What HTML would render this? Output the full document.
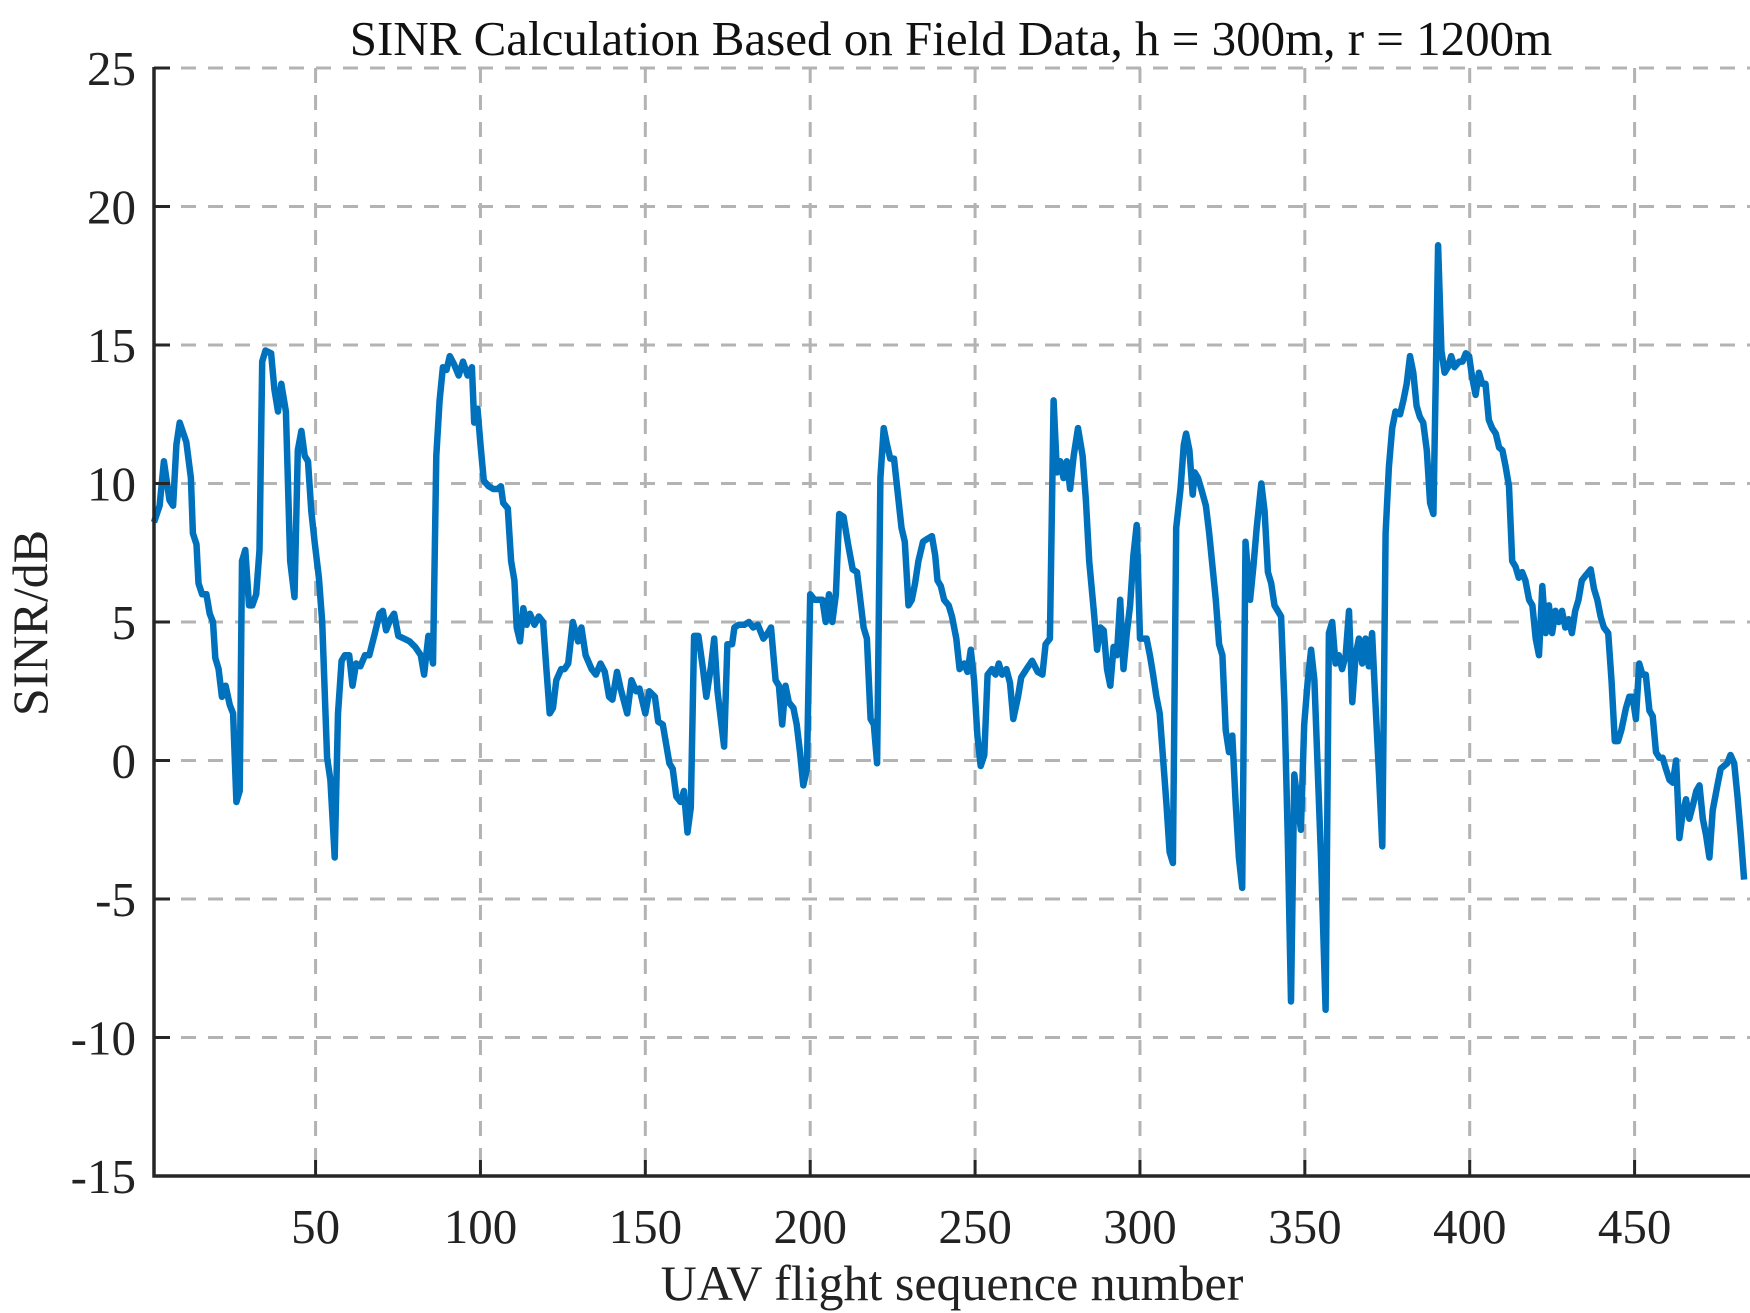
<!DOCTYPE html>
<html><head><meta charset="utf-8"><style>
html,body{margin:0;padding:0;background:#fff;}
svg{display:block;font-family:"Liberation Serif",serif;}
</style></head><body>
<svg id="chart" width="1750" height="1313" viewBox="0 0 1750 1313" xmlns="http://www.w3.org/2000/svg">
<rect x="0" y="0" width="1750" height="1313" fill="#fff"/>
<g id="grid"></g>
<g id="series"></g>
<g id="axes"></g>
<text x="951" y="55" font-size="49" text-anchor="middle" fill="#111">SINR Calculation Based on Field Data, h = 300m, r = 1200m</text>
<text x="952" y="1300" font-size="50" text-anchor="middle" fill="#222">UAV flight sequence number</text>
<text x="0" y="0" font-size="50" text-anchor="middle" fill="#222" transform="translate(47,623) rotate(-90)">SINR/dB</text>
</svg>
<script>
const xTicks = [50,100,150,200,250,300,350,400,450];
const yTicks = [-15,-10,-5,0,5,10,15,20,25];
const seqX = [1,2.7,4,5.7,6.8,7.8,8.8,10.8,12.2,12.8,13.9,14.5,15.6,16.9,17.9,18.9,19.6,20.6,21.6,22.7,24,25,26,27,27.7,28.7,29.8,30.8,32,33,33.8,34.8,36.5,37.5,38.6,39.6,41,42.3,43.6,44.6,45.7,46.7,47.7,48.7,49.7,51,52,53.5,54.5,55.8,56.8,57.9,58.9,60.2,61.2,62.3,63.6,65,66.3,68,69.4,70.4,71.4,72.7,73.8,75.1,76.8,78.5,80.2,81.9,82.9,84.2,85.6,86.6,87.6,88.6,89.7,90.7,92,93.4,94.7,96.1,97.4,98.1,99.1,100,101,102.5,103.9,105.2,106.2,106.9,108.3,109.3,110.3,111,112,113,114,115,116.4,117.7,119,120,121,122,123,124.5,125.5,126.6,128,129.6,130.6,131.9,133.7,135,136.4,137.7,139,140,141.4,142.5,144.5,145.8,147.2,148.2,150,151.2,152.9,153.9,155.3,157.3,158.3,159.4,160.7,161.7,162.8,163.8,164.8,166.1,167.5,168.5,169.9,170.9,171.9,173.9,174.9,176.3,177,178.3,180,181.4,182.7,184.1,185.8,187.1,188.1,189.5,190.5,191.5,192.5,193.5,194.9,195.9,196.9,197.9,199,200,201.3,202.7,203.7,204.7,205.7,206.7,207.8,208.8,210.1,211.5,212.9,214.2,215.2,216.2,217.2,218.3,219.3,220.3,221.3,222.3,223.3,224.3,225.4,226.4,227.7,228.7,229.8,230.8,231.8,232.8,234.2,235.5,236.9,237.9,238.6,239.6,240.6,242,243,244.3,245.3,246.7,247.7,248.7,249.7,250.7,251.7,252.8,253.8,255.1,256.2,257.2,258.2,259.5,260.6,261.6,263,264,265.6,267.3,269,270.4,271.4,272.7,273.8,274.8,275.8,276.8,277.8,278.8,279.9,281.2,282.6,283.6,284.6,286,287,288,289,290,291,292,293,294,295,296,297,298,299,300,302,303,304,305,306,307,308,309,310,311,312.3,313.3,314,315,316,316.6,317.6,318.6,320,321,322,323,324,325,326,327,328,329,330,331,332,333.4,334.4,335.4,336.8,337.8,338.8,339.8,340.8,341.8,342.8,343.8,344.8,345.8,346.8,347.8,348.8,349.8,350.9,351.9,352.9,353.9,354.9,356.3,357.3,358.3,359.3,360.3,361.3,362.4,363.4,364.4,365.4,366.4,367.4,368.4,369.4,370.4,371.4,372.5,373.5,374.5,375.5,376.5,377.5,378.9,379.9,380.9,381.9,382.9,383.9,384.9,385.9,387,388,389,390.4,391.4,392.4,393.4,394.4,395.4,396.8,397.8,398.8,399.8,400.8,401.8,402.8,403.8,404.8,405.8,406.8,407.9,408.9,409.9,410.9,411.9,412.9,413.9,414.9,415.9,416.9,418,419,420,421,422,423,424,425,426,427,428,429,430,431,432,433,434,435.3,436.7,437.7,438.7,439.7,440.7,442,443,444,445,446,447.4,448.4,449.4,450.4,451.4,452.4,453.4,454.5,455.5,456.5,457.5,458.5,459.5,460.6,461.6,462.6,463.6,464.6,465.6,466.6,467.7,468.7,469.7,470.7,471.7,472.7,473.7,475.1,476.1,477.1,478.1,479.1,480.2,481.2,482.2,483.2];
const sinrValues = [8.6,9.2,10.8,9.4,9.2,11.4,12.2,11.5,10.2,8.2,7.8,6.4,6.0,6.0,5.3,5.0,3.7,3.3,2.3,2.7,2.0,1.7,-1.5,-1.1,7.2,7.6,5.6,5.6,6.0,7.6,14.4,14.8,14.7,13.4,12.6,13.6,12.6,7.2,5.9,11.2,11.9,11.0,10.8,9.0,7.9,6.6,5.0,0.1,-0.7,-3.5,1.7,3.6,3.8,3.8,2.7,3.5,3.4,3.8,3.8,4.6,5.3,5.4,4.7,5.1,5.3,4.5,4.4,4.3,4.1,3.8,3.1,4.5,3.5,11.0,13.0,14.2,14.1,14.6,14.3,13.9,14.4,13.9,14.2,12.2,12.7,11.4,10.1,9.9,9.8,9.8,9.9,9.3,9.1,7.2,6.5,4.8,4.3,5.5,4.9,5.3,4.9,5.2,5.0,3.3,1.7,1.9,2.9,3.3,3.3,3.5,5.0,4.3,4.8,3.8,3.3,3.1,3.5,3.2,2.3,2.2,3.2,2.6,1.7,2.9,2.5,2.6,1.7,2.5,2.3,1.4,1.3,-0.1,-0.3,-1.3,-1.5,-1.1,-2.6,-1.7,4.5,4.5,3.3,2.3,3.4,4.4,2.5,0.5,4.2,4.2,4.8,4.9,4.9,5.0,4.8,4.9,4.4,4.6,4.8,2.9,2.7,1.3,2.7,2.1,1.9,1.3,0.3,-0.9,-0.3,6.0,5.8,5.8,5.8,5.0,6.0,5.0,6.0,8.9,8.8,7.8,6.9,6.8,5.8,4.8,4.4,1.5,1.3,-0.1,10.2,12.0,11.4,10.9,10.9,9.8,8.4,7.9,5.6,5.8,6.4,7.2,7.9,8.0,8.1,7.4,6.5,6.3,5.8,5.6,5.2,4.4,3.3,3.5,3.2,4.0,2.9,0.9,-0.2,0.2,3.1,3.3,3.1,3.5,3.1,3.3,2.8,1.5,2.3,3.0,3.3,3.6,3.2,3.1,4.2,4.4,13.0,10.4,10.8,10.2,10.8,9.8,11.0,12.0,11.0,9.4,7.2,5.4,4.0,4.8,4.7,3.3,2.7,4.1,3.8,5.8,3.3,4.6,5.6,7.4,8.5,4.4,4.4,3.8,3.1,2.3,1.7,0.1,-1.5,-3.3,-3.7,8.4,9.8,11.4,11.8,11.2,9.6,10.4,10.2,9.8,9.2,8.2,7.0,5.8,4.2,3.8,1.1,0.3,0.9,-1.5,-3.5,-4.6,7.9,5.8,7.0,8.4,10.0,9.0,6.8,6.4,5.6,5.4,5.2,2.1,-2.7,-8.7,-0.5,-1.5,-2.5,1.3,2.9,4.0,2.9,-0.3,-3.5,-9.0,4.6,5.0,3.5,3.8,3.3,3.8,5.4,2.1,3.8,4.4,3.5,4.4,3.4,4.6,2.1,-0.5,-3.1,8.2,10.6,12.0,12.6,12.5,13.0,13.6,14.6,14.0,12.8,12.4,12.2,11.2,9.3,8.9,18.6,14.8,14.0,14.2,14.6,14.2,14.4,14.4,14.7,14.6,13.8,13.2,14.0,13.6,13.6,12.3,12.0,11.8,11.3,11.2,10.6,9.9,7.2,7.0,6.6,6.8,6.5,5.8,5.6,4.4,3.8,6.3,4.6,5.6,4.6,5.4,5.0,5.4,4.8,5.1,4.6,5.4,5.8,6.5,6.7,6.9,6.2,5.8,5.2,4.8,4.6,2.9,0.7,0.7,1.1,1.9,2.3,2.3,1.5,3.5,3.1,3.1,1.8,1.6,0.3,0.1,0.1,-0.3,-0.7,-0.8,0.0,-2.8,-1.9,-1.4,-2.1,-1.6,-1.1,-0.9,-2.1,-2.7,-3.5,-1.8,-0.9,-0.3,-0.2,-0.1,0.2,-0.1,-1.3,-2.7,-4.3];

const NS = 'http://www.w3.org/2000/svg';
const L = 154, R = 1750, T = 68, B = 1176;
const xMin = 1, xMax = 485, yMin = -15, yMax = 25;
function xScale(v){ return L + (v - xMin) / (xMax - xMin) * (R - L); }
function yScale(v){ return B - (v - yMin) / (yMax - yMin) * (B - T); }
function mk(tag, attrs, parent){ const e = document.createElementNS(NS, tag); for (const k in attrs) e.setAttribute(k, attrs[k]); parent.appendChild(e); return e; }

const grid = document.getElementById('grid');
const axes = document.getElementById('axes');
const series = document.getElementById('series');

xTicks.forEach(t => {
  const x = xScale(t);
  const g = mk('line', {x1:x, x2:x, y1:T, y2:B, stroke:'#b3b3b3', 'stroke-width':3, 'stroke-dasharray':'15,12'}, grid);
  
  
  const tk = mk('line', {x1:x, x2:x, y1:B, y2:B-16, stroke:'#262626', 'stroke-width':3}, axes);
  
  
  const lb = mk('text', {x:x, y:1243, 'font-size':49, 'text-anchor':'middle', fill:'#222'}, axes);
  lb.textContent = t;
  
  
});
yTicks.forEach(t => {
  const y = yScale(t);
  const g = mk('line', {x1:L, x2:R, y1:y, y2:y, stroke:'#b3b3b3', 'stroke-width':3, 'stroke-dasharray':'15,12'}, grid);
  
  
  const tk = mk('line', {x1:L, x2:L+16, y1:y, y2:y, stroke:'#262626', 'stroke-width':3}, axes);
  
  
  const lb = mk('text', {x:136, y:y+17, 'font-size':49, 'text-anchor':'end', fill:'#222'}, axes);
  lb.textContent = t;
  
  
});
const ax1 = mk('line', {x1:L, x2:L, y1:T-1, y2:B+1.5, stroke:'#262626', 'stroke-width':3.5}, axes);


const ax2 = mk('line', {x1:L-1.5, x2:R, y1:B, y2:B, stroke:'#262626', 'stroke-width':3.5}, axes);



let d = '';
for (let i = 0; i < sinrValues.length; i++) {
  d += (i ? 'L' : 'M') + xScale(seqX[i]).toFixed(1) + ',' + yScale(sinrValues[i]).toFixed(1);
}
const path = mk('path', {d:d, fill:'none', stroke:'#0072BD', 'stroke-width':6.5, 'stroke-linejoin':'round'}, series);


</script>
</body></html>
